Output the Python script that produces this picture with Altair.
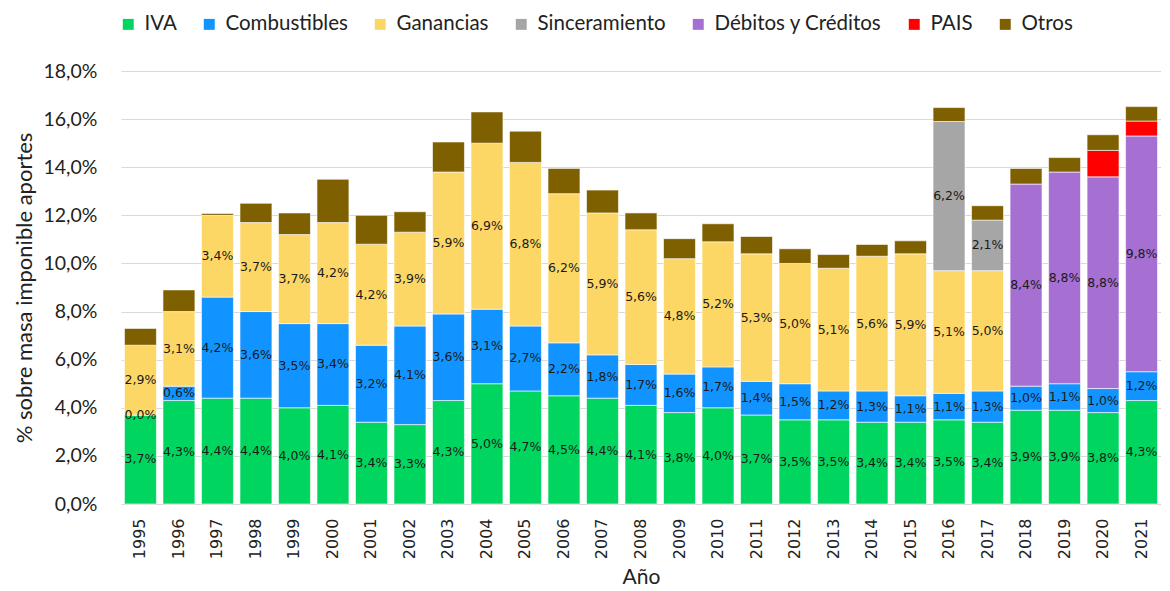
import altair as alt
import pandas as pd

years = [str(y) for y in range(1995, 2022)]

categories = ["IVA", "Combustibles", "Ganancias", "Sinceramiento",
              "Débitos y Créditos", "PAIS", "Otros"]
colors = ["#00d65f", "#1194ff", "#fdd766", "#a6a6a6", "#a66fd2", "#ff0000", "#7f6000"]
labeled = ["IVA", "Combustibles", "Ganancias", "Sinceramiento", "Débitos y Créditos"]

iva = [3.7, 4.3, 4.4, 4.4, 4.0, 4.1, 3.4, 3.3, 4.3, 5.0, 4.7, 4.5, 4.4, 4.1,
       3.8, 4.0, 3.7, 3.5, 3.5, 3.4, 3.4, 3.5, 3.4, 3.9, 3.9, 3.8, 4.3]
combustibles = [0.0, 0.6, 4.2, 3.6, 3.5, 3.4, 3.2, 4.1, 3.6, 3.1, 2.7, 2.2, 1.8, 1.7,
                1.6, 1.7, 1.4, 1.5, 1.2, 1.3, 1.1, 1.1, 1.3, 1.0, 1.1, 1.0, 1.2]
ganancias = [2.9, 3.1, 3.4, 3.7, 3.7, 4.2, 4.2, 3.9, 5.9, 6.9, 6.8, 6.2, 5.9, 5.6,
             4.8, 5.2, 5.3, 5.0, 5.1, 5.6, 5.9, 5.1, 5.0, None, None, None, None]
sinceramiento = [None] * 21 + [6.2, 2.1, None, None, None, None]
debitos_creditos = [None] * 23 + [8.4, 8.8, 8.8, 9.8]
pais = [None] * 25 + [1.1, 0.62]
otros = [0.7, 0.9, 0.08, 0.8, 0.9, 1.8, 1.2, 0.85, 1.25, 1.3, 1.3, 1.05, 0.95, 0.7,
         0.83, 0.75, 0.72, 0.61, 0.57, 0.49, 0.54, 0.58, 0.6, 0.65, 0.6, 0.65, 0.6]

series = [iva, combustibles, ganancias, sinceramiento, debitos_creditos, pais, otros]

rows = []
for ci, (cat, vals) in enumerate(zip(categories, series)):
    for yr, v in zip(years, vals):
        if v is None:
            continue
        rows.append({"year": yr, "cat": cat, "idx": ci, "value": v,
                     "show": cat in labeled})
df = pd.DataFrame(rows)

base = alt.Chart(df).transform_stack(
    stack="value", groupby=["year"],
    sort=[alt.SortField("idx", order="ascending")],
    as_=["y0", "y1"],
).transform_calculate(
    mid="(datum.y0 + datum.y1) / 2",
    lbl="replace(format(datum.value, '.1f'), '.', ',') + '%'",
)

x_enc = alt.X(
    "year:N",
    sort=years,
    scale=alt.Scale(paddingInner=0.17, paddingOuter=0.09),
    axis=alt.Axis(
        title="Año", labelAngle=270, labelFont="DejaVu Sans", labelFontSize=16,
        labelColor="#222222", ticks=False, domain=False, labelPadding=14,
        titleFont="Lato", titleFontSize=21, titleFontWeight="normal",
        titleColor="#222222", titlePadding=8,
    ),
)

bars = base.mark_bar(stroke="#ffffff", strokeWidth=0.6).encode(
    x=x_enc,
    y=alt.Y(
        "y0:Q",
        scale=alt.Scale(domain=[0, 18], nice=False),
        axis=alt.Axis(
            values=list(range(0, 19, 2)),
            labelExpr="replace(format(datum.value, '.1f'), '.', ',') + '%'",
            title="% sobre masa imponible aportes",
            titleFont="Lato", titleFontSize=22, titleFontWeight="normal",
            titleColor="#222222", titlePadding=7,
            labelFont="Lato", labelFontSize=19.5, labelColor="#222222",
            labelPadding=24, ticks=False, domain=False,
            grid=True, gridColor="#d9d9d9", gridWidth=1,
        ),
    ),
    y2="y1:Q",
    color=alt.Color(
        "cat:N",
        scale=alt.Scale(domain=categories, range=colors),
        legend=alt.Legend(
            title=None, orient="none", legendX=-3, legendY=-57,
            direction="horizontal", symbolType="square", symbolSize=120,
            symbolStrokeWidth=0, labelFont="Lato", labelFontSize=20.5,
            labelColor="#222222", columnPadding=22, labelOffset=6,
            labelLimit=0,
        ),
    ),
    order=alt.Order("idx:Q", sort="ascending"),
)

texts = base.transform_filter("datum.show").mark_text(
    font="DejaVu Sans", fontSize=12.5, color="#1a1a1a"
).encode(
    x=alt.X("year:N", sort=years),
    y=alt.Y("mid:Q"),
    text="lbl:N",
)

chart = alt.layer(bars, texts).properties(
    width=1040, height=433,
    padding={"left": 5, "top": 6, "right": 0, "bottom": 0},
).configure_view(stroke=None)

chart.save("out.html", embed_options={"renderer": "svg", "actions": False})
